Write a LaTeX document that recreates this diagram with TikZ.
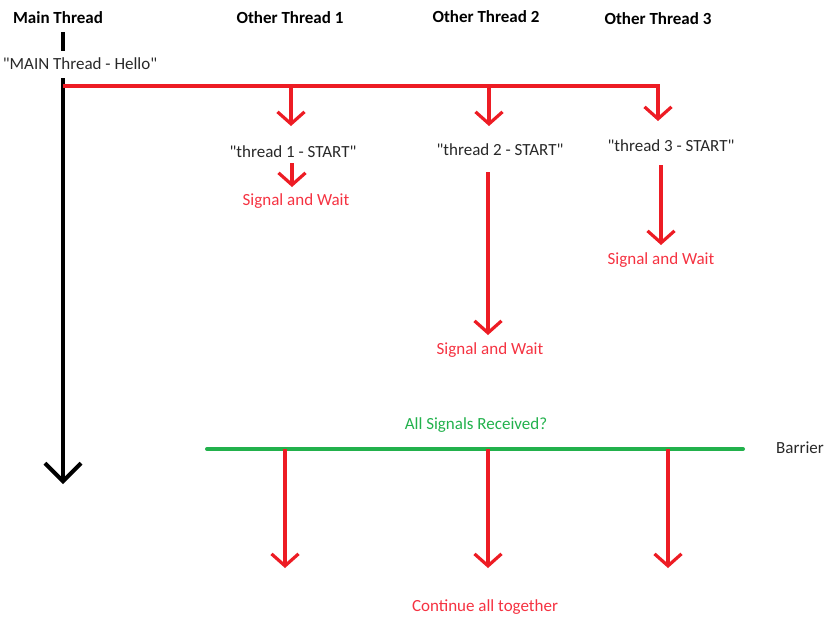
\documentclass[tikz,border=0pt]{standalone}
\usepackage{fontspec}
\setmainfont{Carlito}[Ligatures=TeXOff]
\usetikzlibrary{arrows.meta}
\definecolor{pred}{RGB}{237,28,36}
\definecolor{pgreen}{RGB}{34,177,76}
\definecolor{ptext}{RGB}{40,40,40}
\definecolor{predtext}{RGB}{245,50,65}
\begin{document}
\begin{tikzpicture}[x=1pt,y=-1pt,
  title/.style={font=\fontsize{17}{20}\selectfont\bfseries, text=black, inner sep=0pt},
  label/.style={font=\fontsize{17}{20}\selectfont, text=ptext, inner sep=0pt},
  redlabel/.style={font=\fontsize{17}{20}\selectfont, text=predtext, inner sep=0pt},
  greenlabel/.style={font=\fontsize{17}{20}\selectfont, text=pgreen, inner sep=0pt},
  redline/.style={draw=pred, line width=3.2pt},
  redarrow/.style={redline, -{Straight Barb[length=12pt,width=27pt,line width=3.2pt]}},
  blackarrow/.style={draw=black, line width=4pt, -{Straight Barb[length=18pt,width=36pt,line width=4pt]}},
  greenline/.style={draw=pgreen, line width=4pt}]
\useasboundingbox (0,0) rectangle (834,622);
% titles
\node[title] (tmain) at (58,18) {Main Thread};
\node[title] (t1) at (290,18) {Other Thread 1};
\node[title] (t2) at (486,17) {Other Thread 2};
\node[title] (t3) at (658,19) {Other Thread 3};
% main thread
\coordinate (m0) at (63,32);
\coordinate (m1) at (63,51);
\node[label] (hello) at (80,64) {"MAIN Thread - Hello"};
\coordinate (m2) at (63,78);
\coordinate (mend) at (63,484);
\draw[draw=black, line width=4pt] (m0) -- (m1);
\draw[blackarrow] (m2) -- (mend);
% fork line
\coordinate (f0) at (63,86);
\coordinate (f1) at (291,86);
\coordinate (f2) at (489,86);
\coordinate (f3) at (658,86);
\draw[redline] (f0) -- ([xshift=1.6pt]f3);
% start labels
\node[label] (s1) at (293,152) {"thread 1 - START"};
\node[label] (s2) at (500,150) {"thread 2 - START"};
\node[label] (s3) at (671,146) {"thread 3 - START"};
\coordinate (a1) at (291,126);
\coordinate (a2) at (489,126);
\coordinate (a3) at (658,121);
\draw[redarrow] (f1) -- (a1);
\draw[redarrow] (f2) -- (a2);
\draw[redarrow] (f3) -- (a3);
% signal and wait
\node[redlabel] (w1) at (296,201) {Signal and Wait};
\node[redlabel] (w2) at (490,350) {Signal and Wait};
\node[redlabel] (w3) at (661,260) {Signal and Wait};
\coordinate (b1s) at (292,163);
\coordinate (b1e) at (292,187);
\coordinate (b2s) at (488,172);
\coordinate (b2e) at (488,335);
\coordinate (b3s) at (661,165);
\coordinate (b3e) at (661,245);
\draw[redarrow] (b1s) -- (b1e);
\draw[redarrow] (b2s) -- (b2e);
\draw[redarrow] (b3s) -- (b3e);
% barrier
\node[greenlabel] (asr) at (476,425) {All Signals Received?};
\coordinate (g0) at (207,449);
\coordinate (g1) at (743,449);
\draw[greenline, line cap=round] (g0) -- (g1);
\node[label] (barrier) at (800,448) {Barrier};
\coordinate (c1s) at (285,449);
\coordinate (c2s) at (488,449);
\coordinate (c3s) at (668,449);
\coordinate (c1e) at (285,568);
\coordinate (c2e) at (488,568);
\coordinate (c3e) at (668,568);
\draw[redarrow] (c1s) -- (c1e);
\draw[redarrow] (c2s) -- (c2e);
\draw[redarrow] (c3s) -- (c3e);
\node[redlabel] (cont) at (485,607) {Continue all together};
\end{tikzpicture}
\end{document}
